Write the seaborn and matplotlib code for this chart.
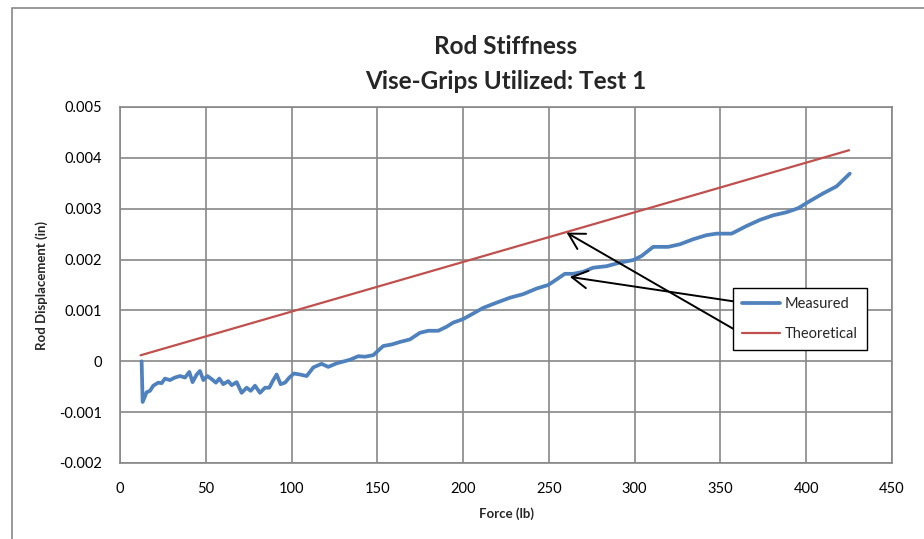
import matplotlib
matplotlib.use("Agg")
import matplotlib.pyplot as plt
import matplotlib.patches as mpatches
import seaborn as sns
import pandas as pd

# ---- data ----
measured_force = [12.6, 13.2, 15.5, 17.5, 19.4, 22.3, 24.3, 26.2, 29.1, 32.0, 35.0, 37.9,
                  40.4, 42.3, 44.7, 46.6, 48.6, 50.9, 53.4, 55.9, 57.9, 60.2, 63.1, 65.1,
                  68.0, 70.9, 73.8, 76.2, 78.7, 81.6, 84.5, 87.0, 89.0, 91.3, 93.6, 96.2,
                  98.7, 101.4, 104.9, 108.8, 112.7, 117.5, 121.4, 126.3, 134.0, 138.9,
                  142.8, 147.6, 153.4, 158.3, 163.2, 169.0, 174.8, 179.7, 185.5, 190.4,
                  194.2, 200.0, 205.9, 211.7, 218.5, 227.3, 235.0, 242.8, 249.6, 254.5,
                  259.3, 264.2, 270.0, 275.8, 283.6, 291.4, 299.1, 304.0, 310.8, 319.5,
                  326.3, 334.1, 341.9, 347.7, 356.5, 365.2, 373.0, 380.7, 388.5, 395.3,
                  402.1, 409.8, 417.7, 425.4]
measured_disp = [0.0, -0.00080, -0.00061, -0.00058, -0.00048, -0.00042, -0.00043, -0.00034,
                 -0.00037, -0.00032, -0.00029, -0.00032, -0.00021, -0.00041, -0.00026,
                 -0.00019, -0.00037, -0.00029, -0.00035, -0.00042, -0.00034, -0.00045,
                 -0.00039, -0.00047, -0.00041, -0.00062, -0.00052, -0.00058, -0.00048,
                 -0.00062, -0.00052, -0.00052, -0.00039, -0.00026, -0.00045, -0.00042,
                 -0.00032, -0.00024, -0.00026, -0.00029, -0.00012, -0.00005, -0.00011,
                 -0.00004, 0.00003, 0.00010, 0.00009, 0.00012, 0.00030, 0.00033, 0.00038,
                 0.00043, 0.00056, 0.00060, 0.00060, 0.00068, 0.00076, 0.00083, 0.00094,
                 0.00105, 0.00114, 0.00125, 0.00132, 0.00143, 0.00150, 0.00161, 0.00172,
                 0.00172, 0.00176, 0.00184, 0.00187, 0.00194, 0.00199, 0.00207, 0.00225,
                 0.00225, 0.00230, 0.00240, 0.00248, 0.00251, 0.00251, 0.00266, 0.00278,
                 0.00287, 0.00293, 0.00301, 0.00315, 0.00330, 0.00344, 0.00369]
theoretical_force = [12.0, 425.0]
theoretical_disp = [0.000118, 0.00415]

x_ticks = [0, 50, 100, 150, 200, 250, 300, 350, 400, 450]
y_ticks = [-0.002, -0.001, 0, 0.001, 0.002, 0.003, 0.004, 0.005]
y_tick_labels = ["-0.002", "-0.001", "0", "0.001", "0.002", "0.003", "0.004", "0.005"]

title_text = "Rod Stiffness\nVise-Grips Utilized: Test 1"
x_label = "Force (lb)"
y_label = "Rod Displacement (in)"
series_names = ["Measured", "Theoretical"]

# ---- plotting ----
sns.set_theme(style="white")
plt.rcParams['font.family'] = ['Lato', 'DejaVu Sans']

fig = plt.figure(figsize=(9.24, 5.39), dpi=100)
ax = fig.add_axes([120/924, 1-463/539, 772/924, 356/539])

df_m = pd.DataFrame({"Force": measured_force, "Disp": measured_disp})
df_t = pd.DataFrame({"Force": theoretical_force, "Disp": theoretical_disp})

sns.lineplot(data=df_m, x="Force", y="Disp", ax=ax, color="#4F81BD", linewidth=2.7,
             label=series_names[0], sort=False, solid_joinstyle="round",
             solid_capstyle="round")
sns.lineplot(data=df_t, x="Force", y="Disp", ax=ax, color="#C0504D", linewidth=1.6,
             label=series_names[1], sort=False)

ax.set_xlim(0, 450)
ax.set_ylim(-0.002, 0.005)
ax.set_xticks(x_ticks)
ax.set_xticklabels([str(t) for t in x_ticks])
ax.set_yticks(y_ticks)
ax.set_yticklabels(y_tick_labels)
ax.grid(True, color="#878787", linewidth=1.2)
ax.set_axisbelow(True)
for s in ax.spines.values():
    s.set_color("#878787")
    s.set_linewidth(1.2)
ax.tick_params(axis="x", length=0, pad=14, labelsize=10.5, colors="black")
ax.tick_params(axis="y", length=0, pad=13, labelsize=10.5, colors="black")

ax.set_xlabel(x_label, fontsize=9.5, fontweight="bold", labelpad=8)
ax.set_ylabel(y_label, fontsize=9.5, fontweight="bold", labelpad=8)

fig.text(506/924, 1-64/539, title_text, ha="center", va="center", fontsize=17.5,
         fontweight="bold", linespacing=1.6)

leg = ax.legend(loc="upper left", bbox_to_anchor=(0.794, 0.492), frameon=True,
                fancybox=False, edgecolor="black", framealpha=1, fontsize=10.5,
                handlelength=2.6, handletextpad=0.3, borderpad=0.65, labelspacing=1.05,
                borderaxespad=0)
leg.get_frame().set_linewidth(1.0)

# annotation arrows from legend to the curves
ax.annotate("", xy=(262.2, 0.00166), xytext=(360.3, 0.001165),
            arrowprops=dict(arrowstyle="->,head_length=0.8,head_width=0.45",
                            color="black", lw=1.4, mutation_scale=14,
                            shrinkA=0, shrinkB=0))
ax.annotate("", xy=(260.3, 0.00253), xytext=(357.4, 0.00064),
            arrowprops=dict(arrowstyle="->,head_length=0.8,head_width=0.45",
                            color="black", lw=1.4, mutation_scale=14,
                            shrinkA=0, shrinkB=0))

# outer chart border (partially visible in reference)
border = mpatches.Rectangle((12/924, -0.2), 1.2, 1.2 - 8/539, transform=fig.transFigure,
                            fill=False, edgecolor="#878787", linewidth=1.2, clip_on=False)
fig.patches.append(border)

fig.savefig("out.png", dpi=100)
